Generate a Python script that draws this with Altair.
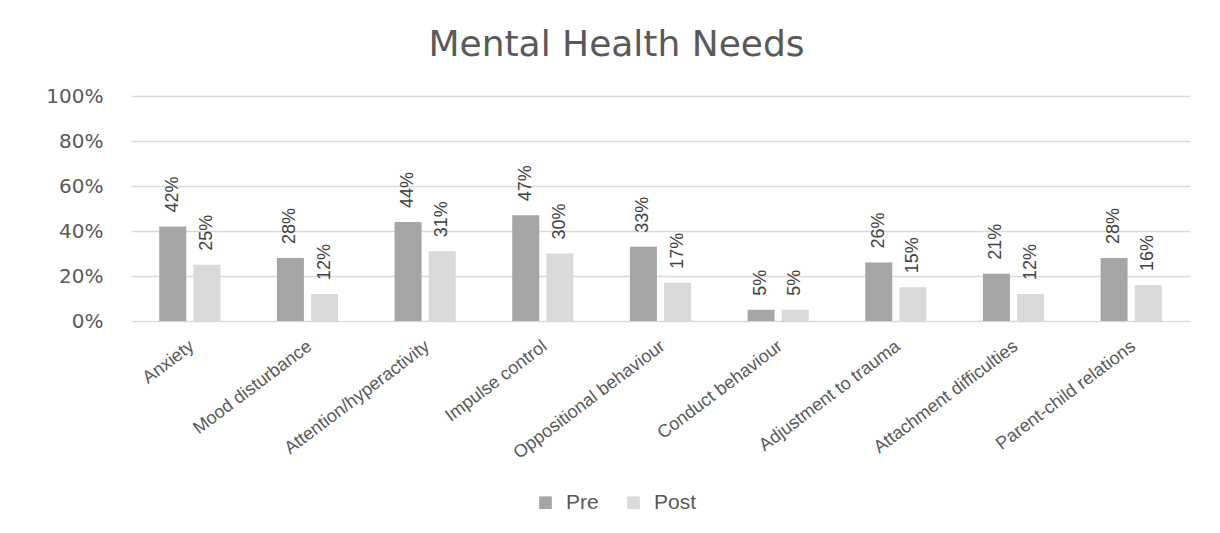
import altair as alt
import pandas as pd

categories = ["Anxiety", "Mood disturbance", "Attention/hyperactivity", "Impulse control",
              "Oppositional behaviour", "Conduct behaviour", "Adjustment to trauma",
              "Attachment difficulties", "Parent-child relations"]
pre = [0.42, 0.28, 0.44, 0.47, 0.33, 0.05, 0.26, 0.21, 0.28]
post = [0.25, 0.12, 0.31, 0.30, 0.17, 0.05, 0.15, 0.12, 0.16]
series = ["Pre", "Post"]
y_ticks = [0, 0.2, 0.4, 0.6, 0.8, 1.0]

rows = []
for c, a, b in zip(categories, pre, post):
    rows.append({"category": c, "series": "Pre", "value": a})
    rows.append({"category": c, "series": "Post", "value": b})
df = pd.DataFrame(rows)

x_enc = alt.X("category:N", sort=categories, title=None,
              scale=alt.Scale(paddingInner=0.48, paddingOuter=0.24),
              axis=alt.Axis(labelAngle=-37, labelAlign="right", labelBaseline="top",
                            labelFont="Liberation Sans", labelFontSize=18,
                            labelColor="#595959", labelPadding=16, labelOffset=-3,
                            labelLimit=0, ticks=False, domain=False, grid=False))
xo_enc = alt.XOffset("series:N", sort=series,
                     scale=alt.Scale(paddingInner=0.21, paddingOuter=0))
y_enc = alt.Y("value:Q", title=None,
              scale=alt.Scale(domain=[0, 1]),
              axis=alt.Axis(values=y_ticks, format=".0%", labelFont="DejaVu Sans",
                            labelFontSize=20, labelColor="#595959", labelPadding=28,
                            ticks=False, domain=False, gridColor="#d9d9d9",
                            gridWidth=1.5))

base = alt.Chart(df).encode(x=x_enc, xOffset=xo_enc)

bars = base.mark_bar().encode(
    y=y_enc,
    color=alt.Color("series:N", sort=series,
                    scale=alt.Scale(domain=series, range=["#a5a5a5", "#d9d9d9"]),
                    legend=alt.Legend(orient="none", legendX=404, legendY=396,
                                      direction="horizontal", title=None,
                                      labelFont="Liberation Sans", labelFontSize=21,
                                      labelColor="#595959", symbolType="square",
                                      symbolSize=160, symbolStrokeWidth=0,
                                      columnPadding=24, labelOffset=10)),
)

labels = base.mark_text(angle=270, align="left", baseline="middle", dx=14,
                        font="Liberation Sans", fontSize=18, color="#404040").encode(
    y=alt.Y("value:Q"),
    text=alt.Text("value:Q", format=".0%"),
)

chart = alt.layer(bars, labels).properties(
    width=1059, height=225,
    background="white",
    title=alt.TitleParams("Mental Health Needs", font="DejaVu Sans", fontSize=36,
                          fontWeight="normal", color="#595959", anchor="middle",
                          dx=-44, offset=22),
    padding={"left": 123, "top": 88, "right": 22, "bottom": 200},
    autosize=alt.AutoSizeParams(type="none"),
).configure_view(stroke=None, strokeWidth=0)

chart.save("out.html", embed_options={"renderer": "svg", "actions": False})
